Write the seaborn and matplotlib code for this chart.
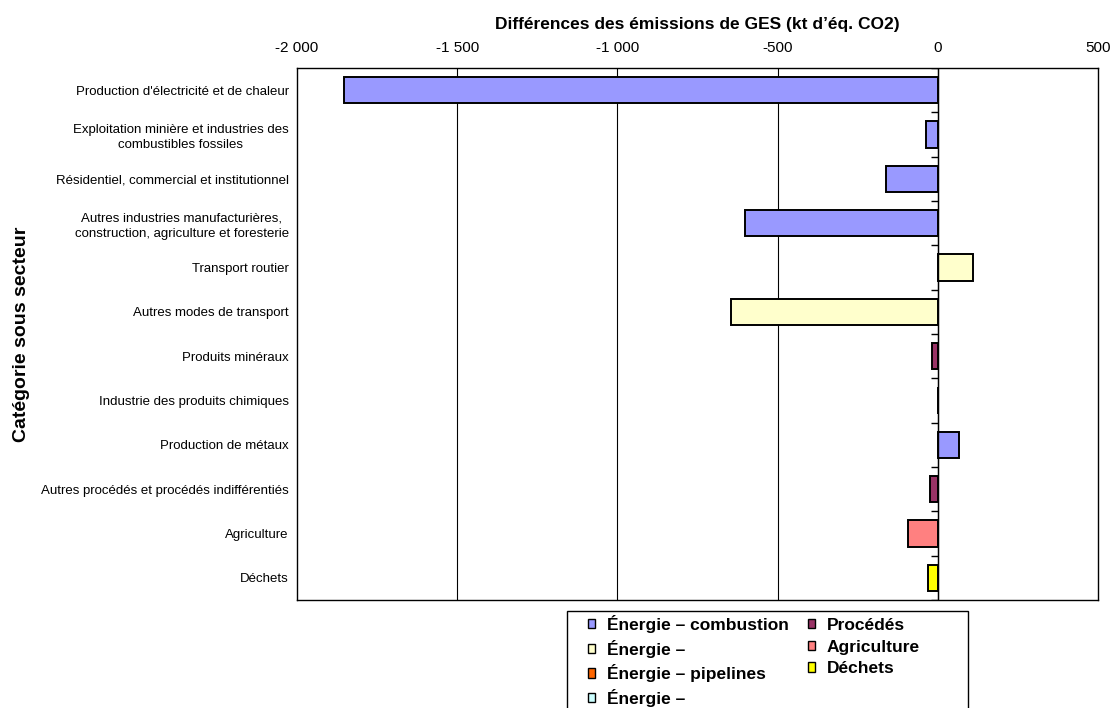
import matplotlib
matplotlib.use("Agg")
import matplotlib.pyplot as plt
from matplotlib.patches import Patch, Rectangle
import seaborn as sns
import pandas as pd
import numpy as np

categories = [
    "Production d'électricité et de chaleur",
    "Exploitation minière et industries des\ncombustibles fossiles",
    "Résidentiel, commercial et institutionnel",
    "Autres industries manufacturières,\nconstruction, agriculture et foresterie",
    "Transport routier",
    "Autres modes de transport",
    "Produits minéraux",
    "Industrie des produits chimiques",
    "Production de métaux",
    "Autres procédés et procédés indifférentiés",
    "Agriculture",
    "Déchets",
]
values = [-1855, -37, -162, -602, 109, -646, -18, 0, 66, -25, -92, -30]
sectors = [
    "Énergie – combustion", "Énergie – combustion", "Énergie – combustion",
    "Énergie – combustion", "Énergie –", "Énergie –", "Procédés", "Procédés",
    "Énergie – combustion", "Procédés", "Agriculture", "Déchets",
]

legend_labels = ["Énergie – combustion", "Énergie –", "Énergie – pipelines", "Énergie –",
                 "Procédés", "Agriculture", "Déchets"]
legend_colors = ["#9999FF", "#FFFFCC", "#FF6600", "#CCFFFF", "#993366", "#FF8080", "#FFFF00"]

x_ticks = [-2000, -1500, -1000, -500, 0, 500]
x_tick_labels = ["-2 000", "-1 500", "-1 000", "-500", "0", "500"]

palette = {
    "Énergie – combustion": "#9999FF",
    "Énergie –": "#FFFFCC",
    "Procédés": "#993366",
    "Agriculture": "#FF8080",
    "Déchets": "#FFFF00",
}

sns.set_theme(style="white")
plt.rcParams["font.family"] = ["Liberation Sans", "DejaVu Sans"]
plt.rcParams["text.color"] = "black"
plt.rcParams["axes.labelcolor"] = "black"
plt.rcParams["xtick.color"] = "black"
plt.rcParams["ytick.color"] = "black"

df = pd.DataFrame({"cat": categories, "val": values, "sector": sectors})

fig = plt.figure(figsize=(11.18, 7.08), dpi=100)
ax = fig.add_axes([0.2657, 0.1525, 0.7164, 0.7515])

sns.barplot(data=df, x="val", y="cat", hue="sector", palette=palette, dodge=False,
            width=0.6, edgecolor="black", linewidth=1.4, saturation=1,
            legend=False, ax=ax, order=categories)

ax.set_xlim(-2000, 500)
ax.set_ylim(len(categories) - 0.5, -0.5)
ax.set_xticks(x_ticks)
ax.set_xticklabels(x_tick_labels, fontsize=11)
ax.xaxis.tick_top()
ax.xaxis.set_label_position("top")
ax.tick_params(axis="x", length=0, pad=9)
ax.set_xlabel("Différences des émissions de GES (kt d’éq. CO2)", fontsize=12.5,
              fontweight="bold", labelpad=9)

ax.set_yticks(range(len(categories)))
ax.set_yticklabels(categories, fontsize=9.5, multialignment="center",
                   linespacing=1.35)
ax.tick_params(axis="y", length=0, pad=6)
ax.set_ylabel("Catégorie sous secteur", fontsize=14, fontweight="bold")
ax.yaxis.set_label_coords(-0.333, 0.5)

# vertical gridlines at major ticks
ax.grid(False)
for xv in x_ticks[1:-1]:
    ax.axvline(xv, color="black", linewidth=0.8, zorder=0)
ax.axvline(0, color="black", linewidth=1.0, zorder=3)
# category boundary ticks on the zero axis
bounds = np.arange(len(categories) + 1) - 0.5
ax.hlines(bounds, -20, 0, color="black", linewidth=1.0, zorder=3)

for s in ax.spines.values():
    s.set_visible(True)
    s.set_color("black")
    s.set_linewidth(1.0)

handles = [Patch(facecolor=c, edgecolor="black", linewidth=1.0) for c in legend_colors]
leg = fig.legend(handles, legend_labels, ncol=2, loc="upper left",
                 bbox_to_anchor=(588 / 1118, 1 - 615 / 708), frameon=False,
                 prop={"weight": "bold", "size": 12.5}, handlelength=0.42,
                 handleheight=0.45, handletextpad=0.7, columnspacing=1.05,
                 labelspacing=0.38, borderpad=0, borderaxespad=0)
# legend box
fig.add_artist(Rectangle((567 / 1118, -0.01), (968 - 567) / 1118, (708 - 611) / 708 + 0.01,
                         transform=fig.transFigure, fill=False, edgecolor="black",
                         linewidth=1.0))

fig.savefig("out.png", dpi=100)
